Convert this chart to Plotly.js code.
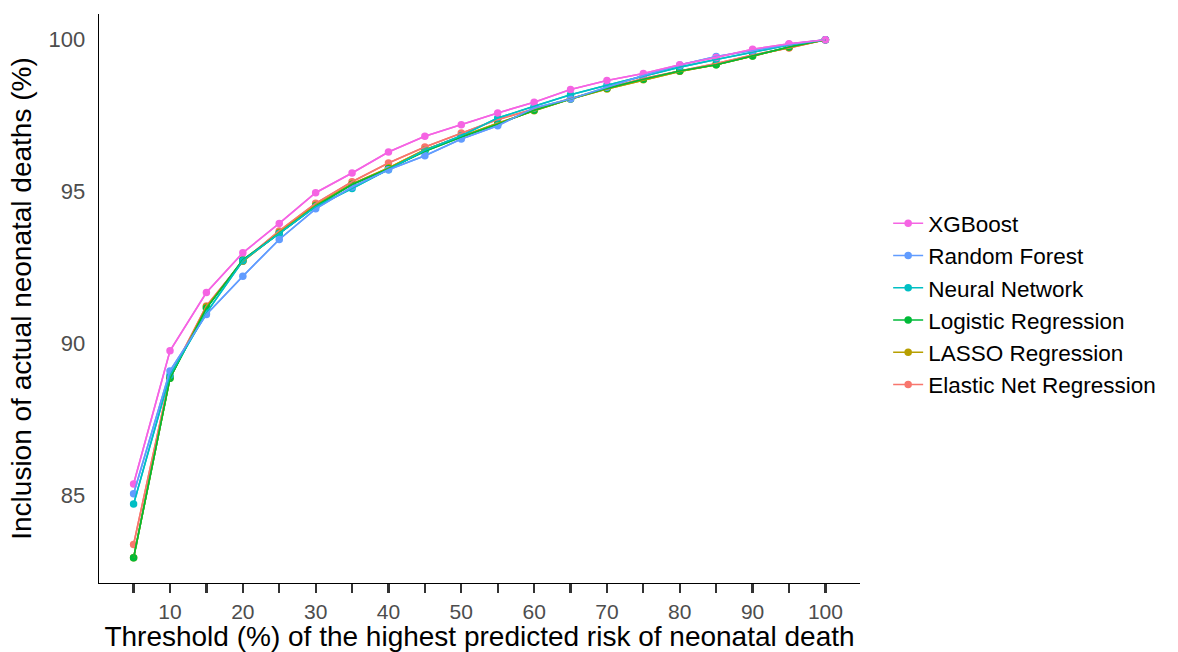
<!DOCTYPE html>
<html>
<head>
<meta charset="utf-8">
<script src="https://cdn.plot.ly/plotly-3.0.1.min.js"></script>
<style>html,body{margin:0;padding:0;background:#fff;}#chart{width:1178px;height:652px;}</style>
</head>
<body>
<div id="chart"></div>
<script>
const thresholds = [5,10,15,20,25,30,35,40,45,50,55,60,65,70,75,80,85,90,95,100];
const xTickLabels = ['', '10', '', '20', '', '30', '', '40', '', '50', '', '60', '', '70', '', '80', '', '90', '', '100'];
const yTickVals = [85, 90, 95, 100];

const xgboost      = [85.36, 89.75, 91.67, 92.98, 93.95, 94.96, 95.61, 96.30, 96.82, 97.20, 97.59, 97.94, 98.36, 98.66, 98.89, 99.18, 99.42, 99.69, 99.87, 100];
const randomForest = [85.04, 89.09, 90.95, 92.21, 93.42, 94.43, 95.15, 95.72, 96.18, 96.73, 97.17, 97.75, 98.05, 98.44, 98.82, 99.17, 99.45, 99.65, 99.85, 100];
const neuralNet    = [84.70, 88.95, 91.00, 92.72, 93.62, 94.50, 95.10, 95.72, 96.36, 96.84, 97.42, 97.81, 98.19, 98.50, 98.80, 99.10, 99.35, 99.60, 99.83, 100];
const logistic     = [82.93, 88.85, 91.15, 92.75, 93.62, 94.52, 95.23, 95.75, 96.33, 96.80, 97.22, 97.68, 98.05, 98.40, 98.70, 98.97, 99.18, 99.47, 99.76, 100];
const lasso        = [82.93, 88.85, 91.20, 92.70, 93.65, 94.55, 95.25, 95.78, 96.38, 96.82, 97.25, 97.66, 98.05, 98.38, 98.68, 98.96, 99.18, 99.47, 99.75, 100];
const elasticNet   = [83.37, 88.90, 91.23, 92.71, 93.70, 94.61, 95.32, 95.94, 96.47, 96.93, 97.37, 97.72, 98.07, 98.40, 98.72, 98.96, 99.22, 99.50, 99.73, 100];

const seriesNames = ['Elastic Net Regression', 'LASSO Regression', 'Logistic Regression', 'Neural Network', 'Random Forest', 'XGBoost'];
const seriesData = [elasticNet, lasso, logistic, neuralNet, randomForest, xgboost];
const seriesColors = ['#F8766D', '#B79F00', '#00BA38', '#00BFC4', '#619CFF', '#F564E3'];

const traces = [];
seriesNames.forEach((name, i) => {
  traces.push({
    x: thresholds, y: seriesData[i], name: name, type: 'scatter', mode: 'lines+markers',
    line: {color: seriesColors[i], width: 1.6},
    marker: {color: seriesColors[i], size: 7.5}
  });
});
seriesNames.forEach((name, i) => {
  traces.push({
    x: thresholds, y: seriesData[i], name: name, type: 'scatter', mode: 'lines',
    line: {color: seriesColors[i], width: 1.6}, showlegend: false, hoverinfo: 'skip'
  });
});

const fontFam = '"Liberation Sans", Arial, Helvetica, sans-serif';
const layout = {
  width: 1178, height: 652,
  paper_bgcolor: '#fff', plot_bgcolor: '#fff',
  margin: {l: 99, r: 318, t: 14, b: 69},
  font: {family: fontFam, color: '#000'},
  showlegend: true,
  legend: {
    traceorder: 'reversed', x: 1.037, xanchor: 'left', y: 0.49, yanchor: 'middle',
    font: {family: fontFam, size: 22.5, color: '#000'}, bgcolor: 'rgba(0,0,0,0)', itemwidth: 30,
    tracegroupgap: 0
  },
  xaxis: {
    range: [0.25, 104.75], tickmode: 'array', tickvals: thresholds, ticktext: xTickLabels,
    ticks: 'outside', ticklen: 9, tickwidth: 2.2, tickcolor: '#333333',
    showline: true, linecolor: '#000', linewidth: 1.3, showgrid: false, zeroline: false,
    tickfont: {family: fontFam, size: 21, color: '#4D4D4D'},
    title: {text: 'Threshold (%) of the highest predicted risk of neonatal death', font: {family: fontFam, size: 28, color: '#000'}, standoff: 4},
    automargin: false
  },
  yaxis: {
    range: [82.1, 100.85], tickmode: 'array', tickvals: yTickVals,
    ticks: '', showline: true, linecolor: '#000', linewidth: 1.3, showgrid: false, zeroline: false,
    tickfont: {family: fontFam, size: 22, color: '#4D4D4D'}, ticklabelstandoff: 8,
    title: {text: 'Inclusion of actual neonatal deaths (%)', font: {family: fontFam, size: 28, color: '#000'}, standoff: 8},
    automargin: false
  }
};

Plotly.newPlot('chart', traces, layout, {displayModeBar: false, staticPlot: true});
</script>
</body>
</html>
